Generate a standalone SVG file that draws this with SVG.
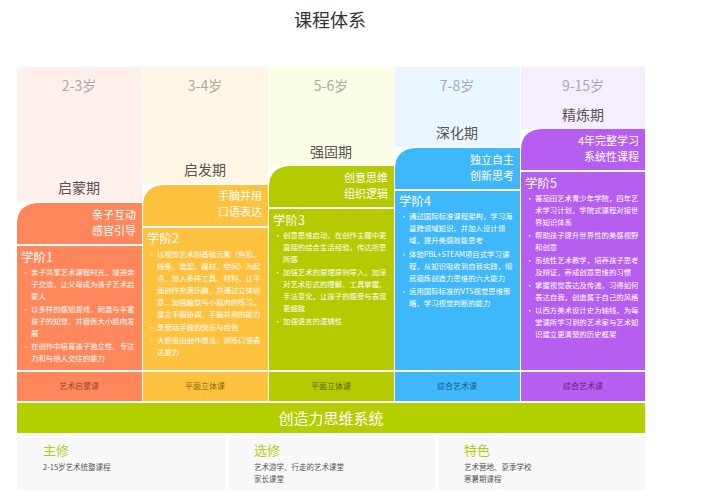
<svg xmlns="http://www.w3.org/2000/svg" width="718" height="500" viewBox="0 0 718 500">
<style>
text{font-family:"Microsoft YaHei","Noto Sans CJK SC",sans-serif}
.age{font-size:14px;fill:#aaa;text-anchor:middle}
.stage{font-size:14px;fill:#555;text-anchor:middle}
.hd{font-size:11px;fill:#fff;text-anchor:end}
.lv{font-size:12.5px;fill:#fff}
.b{font-size:7.4px;fill:#fff}
.ft{font-size:8px;text-anchor:middle}
.bt{font-size:13px;fill:#b5cc14}
.bs{font-size:7.5px;fill:#555}
</style>
<rect width="718" height="500" fill="#fff"/>
<text x="330" y="27" font-size="18" fill="#333" text-anchor="middle">课程体系</text>
<g id="col1">
<rect x="17" y="67" width="125" height="135" fill="#FFF0EB"/>
<text class="age" x="79" y="91">2-3岁</text>
<text class="stage" x="79" y="193">启蒙期</text>
<path d="M17,244 V224 Q17,203 40,203 H142 V244 Z" fill="#FF875B"/>
<text class="hd" x="136" y="219">亲子互动</text><text class="hd" x="136" y="235">感官引导</text>
<rect x="17" y="246" width="125" height="124" fill="#FF875B"/>
<text class="lv" x="21" y="262">学阶1</text>
<g class="b"><text x="22" y="275">•</text><text x="31" y="275">亲子共享艺术课程时光，增进亲</text><text x="31" y="287">子交流，让父母成为孩子艺术启</text><text x="31" y="299">蒙人</text>
<text x="22" y="312">•</text><text x="31" y="312">以多样的感知游戏，刺激与丰富</text><text x="31" y="324">孩子的知觉，并锻炼大小肌肉发</text><text x="31" y="336">展</text>
<text x="22" y="349">•</text><text x="31" y="349">在创作中培育孩子独立性、专注</text><text x="31" y="361">力和与他人交往的能力</text></g>
<rect x="17" y="372" width="125" height="29" fill="#FF875B"/>
<text class="ft" x="79" y="389" fill="#9a4a2a">艺术启蒙课</text>
</g>
<g id="col2">
<rect x="143" y="67" width="125" height="117" fill="#FFF6E6"/>
<text class="age" x="205" y="91">3-4岁</text>
<text class="stage" x="205" y="175">启发期</text>
<path d="M143,226 V206 Q143,185 166,185 H268 V226 Z" fill="#FEC23F"/>
<text class="hd" x="262" y="200">手脑并用</text><text class="hd" x="262" y="216">口语表达</text>
<rect x="143" y="228" width="125" height="142" fill="#FEC23F"/>
<text class="lv" x="147" y="243">学阶2</text>
<g class="b"><text x="148" y="257">•</text><text x="157" y="257">以视觉艺术的基础元素（色彩、</text><text x="157" y="269">线条、造型、媒材、空间）为起</text><text x="157" y="281">点，加入多样工具、材料，让平</text><text x="157" y="293">面创作充满乐趣，并通过立体创</text><text x="157" y="305">意，加强触觉与小肌肉的练习，</text><text x="157" y="317">建立手眼协调、手脑并用的能力</text>
<text x="148" y="330">•</text><text x="157" y="330">享受动手做的快乐与自信</text>
<text x="148" y="343">•</text><text x="157" y="343">大胆说出创作想法，训练口语表</text><text x="157" y="355">达能力</text></g>
<rect x="143" y="372" width="125" height="29" fill="#FEC23F"/>
<text class="ft" x="205" y="389" fill="#8a6410">平面立体课</text>
</g>
<g id="col3">
<rect x="269" y="67" width="125" height="98" fill="#FCFDE6"/>
<text class="age" x="331" y="91">5-6岁</text>
<text class="stage" x="331" y="157">强固期</text>
<path d="M269,207 V187 Q269,166 292,166 H394 V207 Z" fill="#B4CB00"/>
<text class="hd" x="388" y="182">创意思维</text><text class="hd" x="388" y="198">组织逻辑</text>
<rect x="269" y="209" width="125" height="161" fill="#B4CB00"/>
<text class="lv" x="273" y="225">学阶3</text>
<g class="b"><text x="274" y="238">•</text><text x="283" y="238">创意思维启动，在创作主题中更</text><text x="283" y="250">直接的结合生活经验，传达所思</text><text x="283" y="262">所感</text>
<text x="274" y="275">•</text><text x="283" y="275">加强艺术的原理原则导入，加深</text><text x="283" y="287">对艺术形式的理解、工具掌握、</text><text x="283" y="299">手法变化，让孩子的感受与表现</text><text x="283" y="311">更细致</text>
<text x="274" y="324">•</text><text x="283" y="324">加强语言的逻辑性</text></g>
<rect x="269" y="372" width="125" height="29" fill="#B4CB00"/>
<text class="ft" x="331" y="389" fill="#5a6600">平面立体课</text>
</g>
<g id="col4">
<rect x="395" y="67" width="125" height="80" fill="#EAF6FF"/>
<text class="age" x="457" y="91">7-8岁</text>
<text class="stage" x="457" y="138">深化期</text>
<path d="M395,189 V169 Q395,148 418,148 H520 V189 Z" fill="#3FB7FB"/>
<text class="hd" x="514" y="164">独立自主</text><text class="hd" x="514" y="180">创新思考</text>
<rect x="395" y="191" width="125" height="179" fill="#3FB7FB"/>
<text class="lv" x="399" y="206">学阶4</text>
<g class="b"><text x="400" y="219">•</text><text x="409" y="219">通过国际标准课程架构，学习海</text><text x="409" y="231">量跨领域知识，并加入设计领</text><text x="409" y="243">域，提升美感效能思考</text>
<text x="400" y="257">•</text><text x="409" y="257">体验PBL+STEAM项目式学习课</text><text x="409" y="269">程，从知识吸收到自我实践，彻</text><text x="409" y="281">底锻炼创造力思维的六大能力</text>
<text x="400" y="294">•</text><text x="409" y="294">运用国际标准的VTS视觉思维策</text><text x="409" y="306">略，学习视觉判断的能力</text></g>
<rect x="395" y="372" width="125" height="29" fill="#3FB7FB"/>
<text class="ft" x="457" y="389" fill="#1a5f8a">综合艺术课</text>
</g>
<g id="col5">
<rect x="521" y="67" width="124" height="62" fill="#F6EDFD"/>
<text class="age" x="583" y="91">9-15岁</text>
<text class="stage" x="583" y="120">精炼期</text>
<path d="M521,170 V150 Q521,129 544,129 H645 V170 Z" fill="#B55EF0"/>
<text class="hd" x="639" y="145">4年完整学习</text><text class="hd" x="639" y="161">系统性课程</text>
<rect x="521" y="172" width="124" height="198" fill="#B55EF0"/>
<text class="lv" x="525" y="188">学阶5</text>
<g class="b"><text x="526" y="201">•</text><text x="535" y="201">蕃茄田艺术青少年学院，四年艺</text><text x="535" y="213">术学习计划，学院式课程对接世</text><text x="535" y="225">界知识体系</text>
<text x="526" y="238">•</text><text x="535" y="238">帮助孩子提升世界性的美感视野</text><text x="535" y="250">和创意</text>
<text x="526" y="263">•</text><text x="535" y="263">系统性艺术教学，培养孩子思考</text><text x="535" y="275">及辩证，养成创意思维的习惯</text>
<text x="526" y="288">•</text><text x="535" y="288">掌握视觉表达及传递，习得如何</text><text x="535" y="300">表达自我，创造属于自己的风格</text>
<text x="526" y="313">•</text><text x="535" y="313">以西方美术设计史为轴线，为每</text><text x="535" y="325">堂课所学习到的艺术家与艺术知</text><text x="535" y="337">识建立更清楚的历史框架</text></g>
<rect x="521" y="372" width="124" height="29" fill="#B55EF0"/>
<text class="ft" x="583" y="389" fill="#5e2a80">综合艺术课</text>
</g>
<g id="bar">
<rect x="17" y="403" width="628" height="30" fill="#B4CF00"/>
<text x="331" y="424" font-size="15" fill="#fff" text-anchor="middle">创造力思维系统</text>
</g>
<g id="b1"><rect x="17" y="435" width="208" height="55" fill="#F8F8F8"/>
<text class="bt" x="43" y="455">主修</text><text class="bs" x="43" y="470">2-15岁艺术统整课程</text></g>
<g id="b2"><rect x="229" y="435" width="206" height="55" fill="#F8F8F8"/>
<text class="bt" x="254" y="455">选修</text><text class="bs" x="254" y="470">艺术游学、行走的艺术课堂</text><text class="bs" x="254" y="482">家长课堂</text></g>
<g id="b3"><rect x="439" y="435" width="206" height="55" fill="#F8F8F8"/>
<text class="bt" x="464" y="455">特色</text><text class="bs" x="464" y="470">艺术营地、夏季学校</text><text class="bs" x="464" y="482">寒暑期课程</text></g>
<g id="connectors"/>
</svg>
